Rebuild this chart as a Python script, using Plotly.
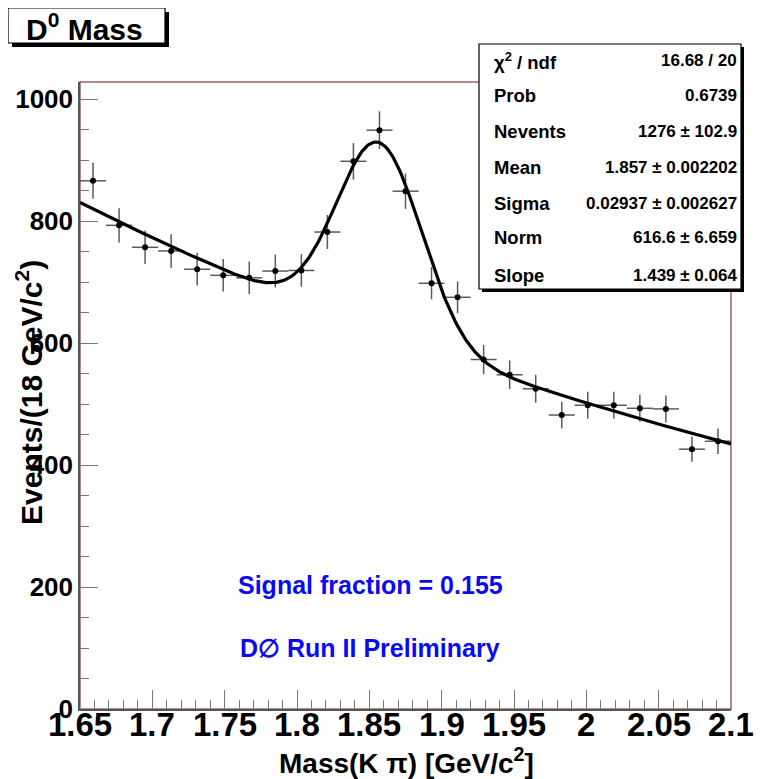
import numpy as np
import plotly.graph_objects as go

# ---- data ----
bin_width = 0.018
bin_centers = [1.659, 1.677, 1.695, 1.713, 1.731, 1.749, 1.767, 1.785, 1.803, 1.821,
               1.839, 1.857, 1.875, 1.893, 1.911, 1.929, 1.947, 1.965, 1.983, 2.001,
               2.019, 2.037, 2.055, 2.073, 2.091]
counts = [866, 793, 757, 751, 721, 711, 707, 718, 719, 782,
          898, 949, 849, 698, 675, 573, 548, 525, 482, 498,
          498, 493, 492, 426, 439]

# fit parameters (stats box)
chi2_ndf = "16.68 / 20"
prob = "0.6739"
nevents, nevents_err = 1276, "102.9"
mean, mean_err = 1.857, "0.002202"
sigma, sigma_err = 0.02937, "0.002627"
norm, norm_err = 616.6, "6.659"
slope, slope_err = 1.439, "0.064"

x_ticks = [1.65, 1.7, 1.75, 1.8, 1.85, 1.9, 1.95, 2.0, 2.05, 2.1]
x_tick_text = ["1.65", "1.7", "1.75", "1.8", "1.85", "1.9", "1.95", "2", "2.05", "2.1"]
y_ticks = [0, 200, 400, 600, 800, 1000]

# ---- figure geometry (reference pixel coords; page body adds an 8px margin) ----
OFF = 8
W, H = 771 - OFF, 779 - OFF
L, R, T, B = 80, 731, 82, 709
pw, ph = R - L, B - T


def px(X):
    return (X - L) / pw


def py(Y):
    return (B - Y) / ph


FONT = "Liberation Sans, Arial, Helvetica, sans-serif"

errors = [np.sqrt(c) for c in counts]

# fit curve: gaussian signal + exponential background, from the stats-box parameters
xf = np.linspace(1.65, 2.1, 400)
bkg = norm * np.exp(-slope * (xf - mean))
sig = nevents * bin_width / (np.sqrt(2 * np.pi) * sigma) * np.exp(-0.5 * ((xf - mean) / sigma) ** 2)
yf = bkg + sig

fig = go.Figure()
fig.add_trace(go.Scatter(
    x=bin_centers, y=counts, mode="markers",
    marker=dict(color="black", size=6),
    error_x=dict(type="constant", value=bin_width / 2, color="#5a5a5a", thickness=1.5, width=0),
    error_y=dict(type="data", array=errors, color="#5a5a5a", thickness=1.5, width=0),
    showlegend=False, hoverinfo="skip",
))
fig.add_trace(go.Scatter(
    x=xf, y=yf, mode="lines", line=dict(color="black", width=3.2),
    showlegend=False, hoverinfo="skip",
))

shapes = []
# frame (top/right reddish)
shapes.append(dict(type="rect", xref="paper", yref="paper", x0=0, y0=0, x1=1, y1=1,
                   line=dict(color="#9a6464", width=1.5), layer="below"))

# title box with shadow
tb = (8, 8, 165, 43)
shapes.append(dict(type="rect", xref="paper", yref="paper",
                   x0=px(tb[0] + 4), x1=px(tb[2] + 4), y0=py(tb[3] + 4), y1=py(tb[1] + 4),
                   fillcolor="black", line=dict(width=0)))
shapes.append(dict(type="rect", xref="paper", yref="paper",
                   x0=px(tb[0]), x1=px(tb[2]), y0=py(tb[3]), y1=py(tb[1]),
                   fillcolor="white", line=dict(color="black", width=1.2)))

# stats box with shadow
sb = (479, 44, 741, 289)
shapes.append(dict(type="rect", xref="paper", yref="paper",
                   x0=px(sb[0] + 3), x1=px(sb[2] + 3), y0=py(sb[3] + 3), y1=py(sb[1] + 3),
                   fillcolor="black", line=dict(width=0)))
shapes.append(dict(type="rect", xref="paper", yref="paper",
                   x0=px(sb[0]), x1=px(sb[2]), y0=py(sb[3]), y1=py(sb[1]),
                   fillcolor="white", line=dict(color="black", width=1.2)))

annotations = []
annotations.append(dict(xref="paper", yref="paper", x=px(84), y=py(27), xanchor="center", yanchor="middle",
                        text="<b>D<sup>0</sup> Mass</b>", showarrow=False,
                        font=dict(family=FONT, size=30, color="black")))

labels = ["χ<sup>2</sup> / ndf", "Prob", "Nevents", "Mean", "Sigma", "Norm", "Slope"]
values = [chi2_ndf, prob, f"{nevents} ± {nevents_err}", f"{mean} ± {mean_err}",
          f"{sigma} ± {sigma_err}", f"{norm} ± {norm_err}", f"{slope} ± {slope_err}"]
row_y = [61, 96, 131, 167, 203, 238, 275]
for lab, val, yy in zip(labels, values, row_y):
    annotations.append(dict(xref="paper", yref="paper", x=px(492), y=py(yy), xanchor="left", yanchor="middle",
                            text=f"<b>{lab}</b>", showarrow=False,
                            font=dict(family=FONT, size=18.5, color="black")))
    annotations.append(dict(xref="paper", yref="paper", x=px(739), y=py(yy), xanchor="right", yanchor="middle",
                            text=f"<b>{val}</b>", showarrow=False,
                            font=dict(family=FONT, size=17, color="black")))

annotations.append(dict(xref="paper", yref="paper", x=px(370), y=py(585), xanchor="center", yanchor="middle",
                        text="<b>Signal fraction = 0.155</b>", showarrow=False,
                        font=dict(family=FONT, size=25, color="#0a0af0")))
annotations.append(dict(xref="paper", yref="paper", x=px(370), y=py(648), xanchor="center", yanchor="middle",
                        text="<b>D∅ Run II Preliminary</b>", showarrow=False,
                        font=dict(family=FONT, size=25, color="#0a0af0")))

# x tick labels (placed close under the axis as in the reference)
for xv, xt in zip(x_ticks, x_tick_text):
    annotations.append(dict(xref="x", yref="paper", x=xv, y=py(724), xanchor="center", yanchor="middle",
                            text=f"<b>{xt}</b>", showarrow=False,
                            font=dict(family=FONT, size=33, color="black")))

# axis titles
annotations.append(dict(xref="paper", yref="paper", x=px(406), y=py(761), xanchor="center", yanchor="middle",
                        text="<b>Mass(K π) [GeV/c<sup>2</sup>]</b>", showarrow=False,
                        font=dict(family=FONT, size=28, color="black")))
annotations.append(dict(xref="paper", yref="paper", x=px(29), y=py(393), xanchor="center", yanchor="middle",
                        text="<b>Events/(18 GeV/c<sup>2</sup>)</b>", showarrow=False, textangle=-90,
                        font=dict(family=FONT, size=30, color="black")))

fig.update_layout(
    width=W, height=H,
    margin=dict(l=L - OFF, r=W - (R - OFF), t=T - OFF, b=H - (B - OFF), autoexpand=False),
    paper_bgcolor="white", plot_bgcolor="white",
    shapes=shapes, annotations=annotations,
    xaxis=dict(range=[1.65, 2.1], tickvals=x_ticks, showticklabels=False,
               ticks="inside", ticklen=19, tickcolor="#777777", tickwidth=1.3,
               minor=dict(ticks="inside", ticklen=9, dtick=0.01, tick0=1.65, tickcolor="#777777", tickwidth=1.3),
               showgrid=False, zeroline=False, showline=True, linecolor="#555555", linewidth=1.5),
    yaxis=dict(range=[0, 1028], tickvals=y_ticks,
               ticks="inside", ticklen=18, tickcolor="#777777", tickwidth=1.3,
               minor=dict(ticks="inside", ticklen=9, dtick=50, tick0=0, tickcolor="#777777", tickwidth=1.3),
               showgrid=False, zeroline=False, showline=True, linecolor="#555555", linewidth=1.5,
               tickfont=dict(family=FONT, size=26, color="black", weight="bold")),
)

fig.write_html("out.html")
